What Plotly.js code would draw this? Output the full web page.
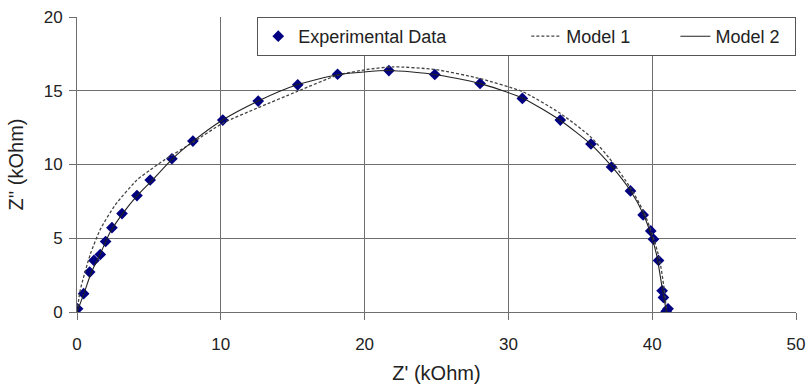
<!DOCTYPE html>
<html>
<head>
<meta charset="utf-8">
<script src="https://cdn.plot.ly/plotly-3.0.1.min.js"></script>
<style>html,body{margin:0;padding:0;background:#fff;}#chart{width:812px;height:389px;}</style>
</head>
<body>
<div id="chart"></div>
<script>
// Experimental data (kOhm)
var expX = [0.04, 0.46, 0.88, 1.18, 1.62, 1.99, 2.43, 3.13, 4.17, 5.09, 6.6, 8.06, 10.14, 12.6, 15.35, 18.12, 21.69, 24.88, 28.03, 30.97, 33.61, 35.74, 37.17, 38.49, 39.37, 39.9, 40.09, 40.44, 40.69, 40.78, 41.1, 40.97];
var expY = [0.22, 1.24, 2.71, 3.5, 3.9, 4.78, 5.72, 6.67, 7.89, 8.95, 10.39, 11.59, 13.01, 14.3, 15.4, 16.12, 16.37, 16.1, 15.49, 14.48, 13.01, 11.39, 9.83, 8.21, 6.58, 5.5, 4.94, 3.49, 1.44, 0.99, 0.22, 0.05];

// Model 1 (dashed)
var m1X = [0, 0.23, 0.92, 1.62, 2.66, 4.17, 5.09, 6.0, 8.06, 10.14, 12.6, 15.3, 18.12, 20.14, 22.0, 24.9, 28.0, 31.0, 33.6, 35.7, 37.2, 38.5, 39.4, 40.0, 40.5, 40.8, 41.0];
var m1Y = [0, 1.5, 3.9, 5.6, 7.26, 8.95, 9.63, 10.26, 11.5, 12.8, 13.85, 14.95, 16.05, 16.44, 16.62, 16.44, 15.83, 14.93, 13.47, 11.89, 10.2, 8.4, 6.8, 5.3, 3.6, 1.8, 0];

// Model 2 (solid)
var m2X = [0, 0.5, 1.0, 1.6, 2.3, 3.2, 4.2, 5.2, 6.6, 8.1, 10.1, 12.6, 15.3, 18.2, 21.7, 24.9, 28.0, 31.0, 33.6, 35.7, 37.2, 38.5, 39.4, 39.9, 40.3, 40.6, 40.8, 41.0];
var m2Y = [0, 1.3, 2.7, 3.9, 5.4, 6.7, 7.9, 8.9, 10.35, 11.6, 13.0, 14.3, 15.4, 16.1, 16.37, 16.1, 15.5, 14.5, 13.0, 11.4, 9.85, 8.2, 6.6, 5.3, 3.9, 2.2, 1.0, 0.0];

var seriesNames = ["Experimental Data", "Model 1", "Model 2"];
var xTicks = [0, 10, 20, 30, 40, 50];
var yTicks = [0, 5, 10, 15, 20];

var font = "Liberation Sans, Arial, Helvetica, sans-serif";
var gridCol = "#6e6e6e";
function pad(s, n) { return s + "\u00a0".repeat(n); }

var traces = [
  {x: expX, y: expY, name: pad(seriesNames[0], 15), mode: "markers", type: "scatter",
   marker: {symbol: "diamond", size: 9, color: "#000080"}},
  {x: m1X, y: m1Y, name: pad(seriesNames[1], 8), mode: "lines", type: "scatter",
   line: {color: "#444", width: 1.3, dash: "3px,2px", shape: "spline", smoothing: 0.6}},
  {x: m2X, y: m2Y, name: pad(seriesNames[2], 2), mode: "lines", type: "scatter",
   line: {color: "#222", width: 1.1, shape: "spline", smoothing: 0.6}}
];

var layout = {
  width: 812, height: 389,
  margin: {l: 77, r: 16, t: 17, b: 77},
  paper_bgcolor: "#fff", plot_bgcolor: "#fff",
  font: {family: font, color: "#222", size: 17},
  showlegend: true,
  legend: {orientation: "h", x: 0.2507, xanchor: "left", y: 1.0, yanchor: "top",
           bgcolor: "#fff", bordercolor: "#555", borderwidth: 1,
           font: {family: font, size: 18, color: "#222"},
           traceorder: "normal"},
  xaxis: {range: [0, 50], tickvals: xTicks, ticktext: xTicks.map(String),
          showgrid: true, gridcolor: gridCol, gridwidth: 1,
          showline: true, linecolor: gridCol, linewidth: 1, mirror: false,
          ticks: "outside", ticklen: 7, tickcolor: gridCol,
          zeroline: false, ticklabelstandoff: 10,
          tickfont: {size: 17, family: font, color: "#222"},
          title: {text: "Z' (kOhm)", font: {size: 20, family: font, color: "#222"}, standoff: 12}},
  yaxis: {range: [0, 20], tickvals: yTicks, ticktext: yTicks.map(String),
          showgrid: true, gridcolor: gridCol, gridwidth: 1,
          showline: true, linecolor: gridCol, linewidth: 1, mirror: false,
          ticks: "outside", ticklen: 7, tickcolor: gridCol,
          zeroline: false, ticklabelstandoff: 3,
          tickfont: {size: 17, family: font, color: "#222"},
          title: {text: "Z'' (kOhm)", font: {size: 20, family: font, color: "#222"}, standoff: 14}}
};

Plotly.newPlot("chart", traces, layout, {displayModeBar: false, staticPlot: true});
</script>
</body>
</html>
